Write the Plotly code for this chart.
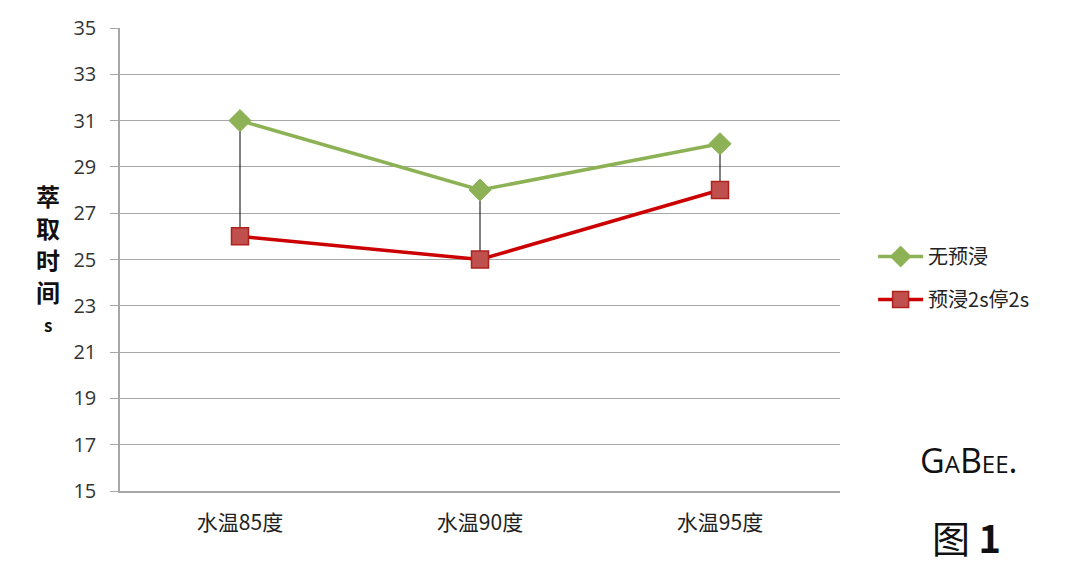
import plotly.graph_objects as go

categories = ["水温85度", "水温90度", "水温95度"]
no_presoak = [31, 28, 30]
presoak = [26, 25, 28]
y_ticks = [15, 17, 19, 21, 23, 25, 27, 29, 31, 33, 35]
y_title_chars = ["萃", "取", "时", "间", "s"]

fig = go.Figure()

# high-low lines
hx, hy = [], []
for c, a, b in zip(categories, no_presoak, presoak):
    hx += [c, c, None]
    hy += [a, b, None]
fig.add_trace(go.Scatter(x=hx, y=hy, mode="lines", line=dict(color="#000000", width=1),
                         showlegend=False, hoverinfo="skip"))

fig.add_trace(go.Scatter(x=categories, y=no_presoak, name="无预浸", mode="lines+markers",
                         legendgroup="a",
                         line=dict(color="#8db255", width=3.5),
                         marker=dict(symbol="diamond", size=17, color="#8db255",
                                     line=dict(color="#8db255", width=1))))
fig.add_trace(go.Scatter(x=categories, y=presoak, name="预浸2s停2s", mode="lines+markers",
                         legendgroup="b",
                         line=dict(color="#cc0000", width=3.5),
                         marker=dict(symbol="square", size=17, color="#c0504d",
                                     line=dict(color="#b0201d", width=1.5))))

font_family = "Noto Sans CJK SC, Noto Sans, sans-serif"

annotations = []
title_y = [0.639, 0.570, 0.499, 0.430, 0.359]
for ch, yy in zip(y_title_chars, title_y):
    annotations.append(dict(text=f"<b>{ch}</b>", xref="paper", yref="paper", x=-0.1, y=yy,
                            xanchor="center", yanchor="middle", showarrow=False,
                            font=dict(size=24 if ch != "s" else 17, color="#111111")))
annotations += [
    dict(text="GaBee.", xref="paper", yref="paper", x=1.178, y=0.067,
         xanchor="center", yanchor="middle", showarrow=False,
         font=dict(size=34, color="#111111", family="Open Sans, sans-serif", variant="small-caps")),
    dict(text="图 <b>1</b>", xref="paper", yref="paper", x=1.176, y=-0.099,
         xanchor="center", yanchor="middle", showarrow=False,
         font=dict(size=38, color="#111111")),
]

fig.update_layout(
    width=1080, height=575,
    margin=dict(l=112, r=248, t=20, b=92, autoexpand=False),
    paper_bgcolor="white", plot_bgcolor="white",
    font=dict(family=font_family, size=20, color="#222222"),
    xaxis=dict(type="category", range=[-0.5, 2.5], showgrid=False, automargin=False,
               showline=True, linecolor="#a6a6a6", linewidth=1.5,
               ticks="", tickfont=dict(size=21, color="#222222"), ticklabelstandoff=12),
    yaxis=dict(range=[15, 35], tickvals=y_ticks, showgrid=True, gridcolor="#a6a6a6",
               gridwidth=1.2, showline=True, linecolor="#a6a6a6", linewidth=1.5,
               automargin=False,
               ticks="outside", ticklen=8, tickcolor="#a6a6a6", tickwidth=1.2,
               ticklabelstandoff=10,
               tickfont=dict(size=20, color="#333333", family="Open Sans, sans-serif"),
               zeroline=False),
    legend=dict(x=1.046, y=0.46, xanchor="left", yanchor="middle",
                font=dict(size=20, color="#222222"), tracegroupgap=14, itemwidth=45),
    annotations=annotations,
)

fig.write_html("out.html")
